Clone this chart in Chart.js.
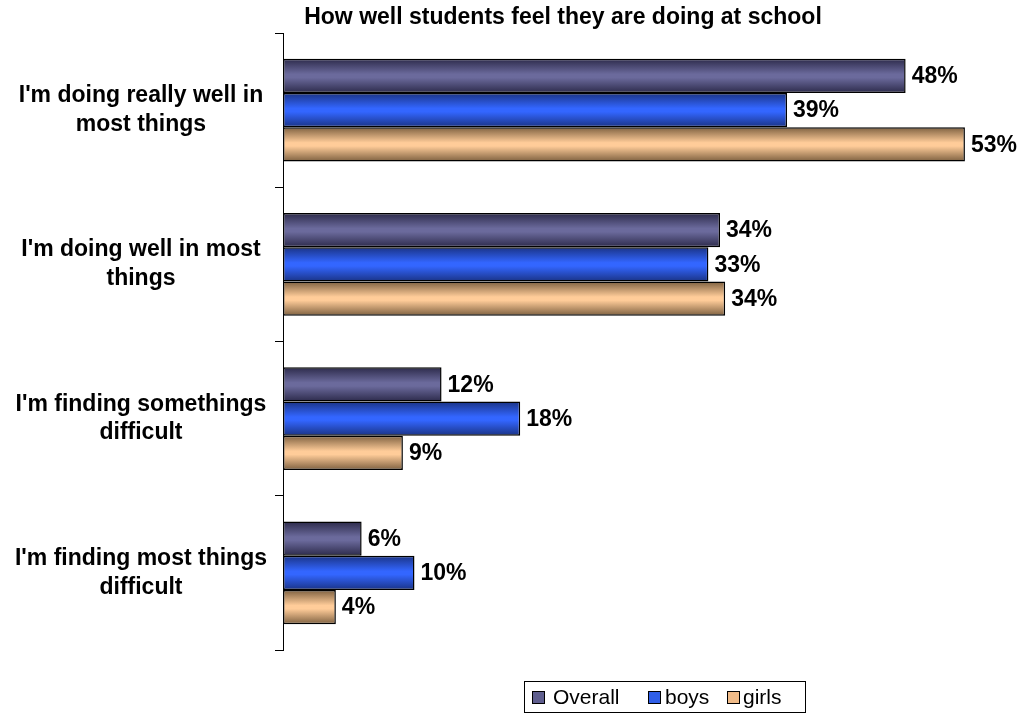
<!DOCTYPE html>
<html><head><meta charset="utf-8">
<script src="https://cdn.jsdelivr.net/npm/chart.js@4/dist/chart.umd.min.js"></script>
<style>html,body{margin:0;padding:0;background:#fff}#wrap{width:1021px;height:715px;position:relative}</style>
</head><body><div id="wrap"><canvas id="c" width="1021" height="715"></canvas></div>
<script>
const categories = [["I'm doing really well in","most things"],["I'm doing well in most","things"],["I'm finding somethings","difficult"],["I'm finding most things","difficult"]];
const seriesNames = ["Overall","boys","girls"];
const overall = [48.3,33.9,12.3,6.1];
const boys = [39.1,33.0,18.4,10.2];
const girls = [52.9,34.3,9.3,4.1];
const titleText = "How well students feel they are doing at school";

const palettes = [
  {edge:'#2c2a4a', mid:'#6b6a9c', flat:'#5f5e8e'},
  {edge:'#1a3385', mid:'#3366ff', flat:'#2f5ee8'},
  {edge:'#7d6040', mid:'#ffcc99', flat:'#f0bb88'}
];
const FONT = "'Liberation Sans', Arial, sans-serif";

const gradPlugin = {
  id:'grad',
  beforeDatasetsDraw(chart){
    const ctx = chart.ctx;
    chart.data.datasets.forEach((ds,i)=>{
      const meta = chart.getDatasetMeta(i);
      const p = palettes[i];
      meta.data.forEach(el=>{
        const top = el.y - el.height/2, bot = el.y + el.height/2;
        const g = ctx.createLinearGradient(0,top,0,bot);
        g.addColorStop(0,p.edge);
        g.addColorStop(0.45,p.mid);
        g.addColorStop(0.55,p.mid);
        g.addColorStop(1,p.edge);
        el.options.backgroundColor = g;
      });
    });
  }
};

const labelPlugin = {
  id:'vals',
  afterDatasetsDraw(chart){
    const ctx = chart.ctx;
    ctx.save();
    ctx.font = "bold 23px " + FONT;
    ctx.fillStyle = '#000';
    ctx.textBaseline = 'middle';
    ctx.textAlign = 'left';
    chart.data.datasets.forEach((ds,i)=>{
      const meta = chart.getDatasetMeta(i);
      meta.data.forEach((el,j)=>{
        ctx.fillText(Math.round(ds.data[j]) + '%', el.x + 6, el.y + 1);
      });
    });
    ctx.restore();
  }
};

const titleLegendPlugin = {
  id:'titleLegend',
  afterDraw(chart){
    const ctx = chart.ctx;
    ctx.save();
    ctx.font = "bold 23px " + FONT;
    ctx.fillStyle = '#000';
    ctx.textAlign = 'center';
    ctx.textBaseline = 'middle';
    ctx.fillText(titleText, 563, 18);
    // legend
    ctx.strokeStyle = '#000';
    ctx.lineWidth = 1;
    ctx.strokeRect(524.5, 681.5, 281, 31);
    ctx.font = "21px " + FONT;
    ctx.textAlign = 'left';
    const xs = [532, 648, 727];
    const tx = [553, 665, 743];
    chart.data.datasets.forEach((ds,i)=>{
      const x = xs[i];
      ctx.fillStyle = palettes[i].flat;
      ctx.fillRect(x, 691, 12, 12);
      ctx.strokeRect(x+0.5, 691.5, 12, 12);
      ctx.fillStyle = '#000';
      ctx.fillText(ds.label, tx[i], 698);
    });
    ctx.restore();
  }
};

new Chart(document.getElementById('c'), {
  type:'bar',
  data:{
    labels: categories,
    datasets: [overall, boys, girls].map((d,i)=>({
      label: seriesNames[i],
      data: d,
      backgroundColor: ()=>palettes[i].flat,
      borderColor:'#000',
      borderWidth:1.5,
      borderSkipped:false,
      categoryPercentage:0.666,
      barPercentage:1
    }))
  },
  options:{
    indexAxis:'y',
    responsive:false,
    animation:false,
    layout:{padding:{top:33,bottom:65,right:29,left:0}},
    plugins:{legend:{display:false},title:{display:false},tooltip:{enabled:false}},
    scales:{
      x:{display:false,min:0,max:55},
      y:{
        afterFit(s){ s.width = 283; s.paddingTop = 0; s.paddingBottom = 0; },
        border:{display:true,color:'#000',width:1},
        grid:{offset:true,drawOnChartArea:false,color:'#000',tickLength:8,lineWidth:1},
        ticks:{color:'#000',crossAlign:'center',padding:8,font:{family:FONT,size:23,weight:'bold',lineHeight:1.25}}
      }
    }
  },
  plugins:[gradPlugin,labelPlugin,titleLegendPlugin]
});
</script></body></html>
